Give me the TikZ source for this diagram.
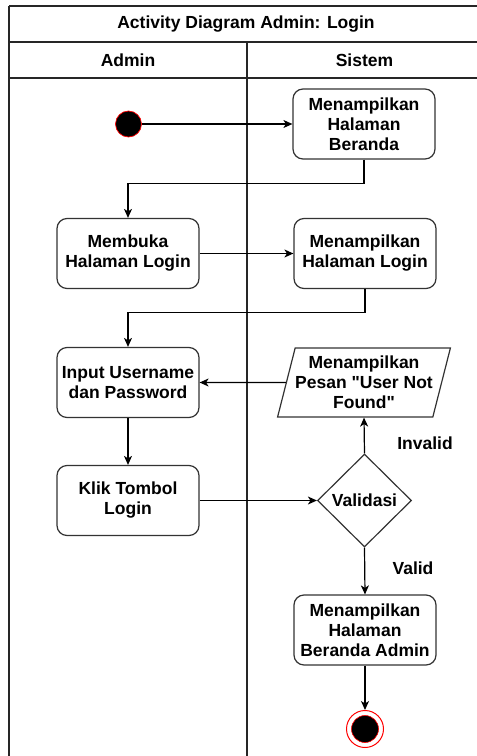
\documentclass[tikz,border=0pt]{standalone}
\usepackage{fontspec}
\setmainfont{Liberation Sans}[Ligatures=TeXOff]
\usetikzlibrary{shapes.geometric,arrows.meta,positioning}
\tikzset{
  txt/.style={font=\bfseries\fontsize{17.5}{20}\selectfont, align=center},
  actbox/.style={txt, draw=black!80, line width=1.2pt, rounded corners=10pt,
    minimum width=142pt, minimum height=70pt, inner sep=0pt, fill=white},
  msgbox/.style={txt, trapezium, trapezium left angle=71.6, trapezium right angle=108.4,
    trapezium stretches=true, draw=black!80, line width=1.2pt,
    minimum width=164pt, minimum height=69pt, inner sep=0pt},
  decide/.style={txt, diamond, draw=black!80, line width=1.2pt,
    minimum width=94pt, minimum height=93pt, inner sep=0pt},
  conn/.style={line width=1.2pt, draw=black, -{Stealth[length=9pt,width=8pt,inset=2.5pt]}},
  frame/.style={line width=1.2pt, draw=black!85},
  lbl/.style={txt}
}
\begin{document}
\begin{tikzpicture}[x=1pt,y=-1pt]
\useasboundingbox (0,0) rectangle (477,756);
% frame
\draw[frame] (9,6) -- (482,6);
\draw[frame] (9,6) -- (9,760);
\draw[frame] (9,42) -- (482,42);
\draw[frame] (9,78) -- (482,78);
\draw[frame] (247,42) -- (247,760);
\node[txt] (title) at (246,24) {Activity Diagram Admin: Login};
\node[txt] (hadmin) at (128,60) {Admin};
\node[txt] (hsistem) at (364.5,60) {Sistem};
% nodes
\node[circle, fill=black, draw=red, line width=0.7pt, minimum size=26pt, inner sep=0pt] (start) at (128.5,124) {};
\node[actbox] (b1) at (364,124) {Menampilkan\\Halaman\\Beranda};
\node[actbox] (b2) at (128,253.5) {Membuka\\Halaman Login};
\node[actbox] (b3) at (365,253.5) {Menampilkan\\Halaman Login};
\node[actbox] (b4) at (128,382.5) {Input Username\\dan Password};
\node[msgbox] (msg) at (364,382.5) {Menampilkan\\Pesan "User Not\\Found"};
\node[actbox] (b5) at (128,500.5) {Klik Tombol\\Login};
\node[decide] (val) at (364.5,500.5) {Validasi};
\node[actbox] (b6) at (365,630) {Menampilkan\\Halaman\\Beranda Admin};
\node[circle, draw=red, line width=1pt, minimum size=37pt, inner sep=0pt, fill=white] (endo) at (365,729) {};
\node[circle, fill=black, draw=red, line width=0.6pt, minimum size=27pt, inner sep=0pt] (endi) at (365,729) {};
\node[lbl] (linv) at (425,443) {Invalid};
\node[lbl] (lval) at (413,568) {Valid};
% connectors
\draw[conn] (start) -- (b1);
\draw[conn] (b1.south) -- ++(0,24) -| (b2.north);
\draw[conn] (b2) -- (b3);
\draw[conn] (b3.south) -- ++(0,23) -| (b4.north);
\draw[conn] (msg.west) -- (b4.east);
\draw[conn] (b4) -- (b5);
\draw[conn] (b5) -- (val);
\draw[conn] (val.north) -- (msg.south);
\draw[conn] (val.south) -- (b6.north);
\draw[conn] (b6.south) -- (endo.north);
\end{tikzpicture}
\end{document}
